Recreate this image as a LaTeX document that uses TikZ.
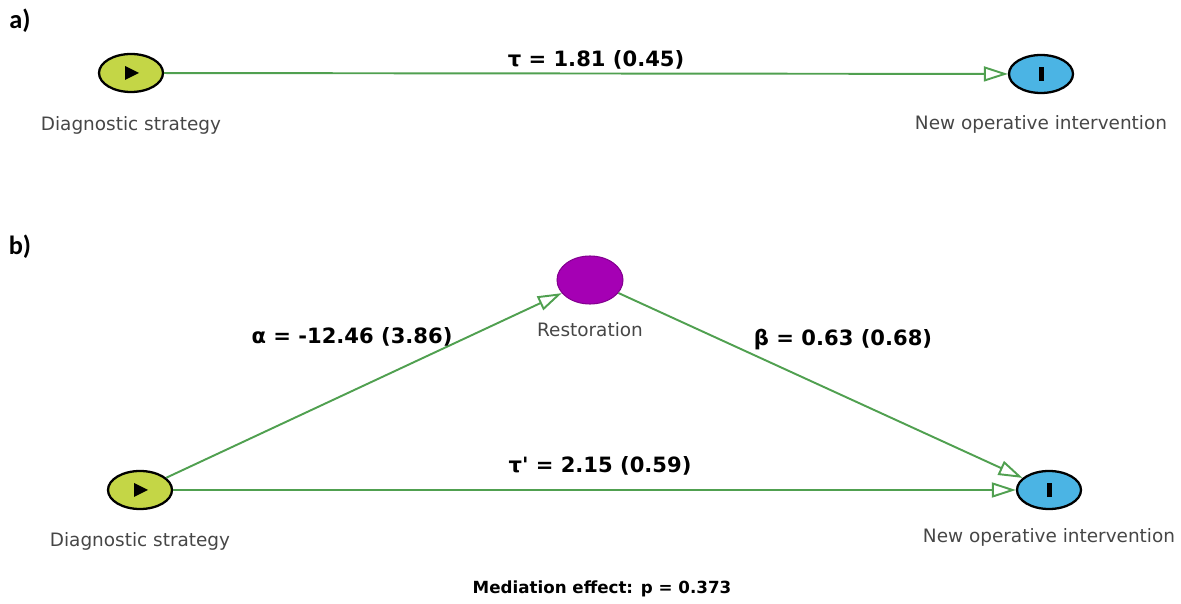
\documentclass[tikz,border=0pt]{standalone}
\usepackage{fontspec}
\setmainfont{DejaVu Sans}
\newfontfamily\panelfont{Carlito}
\usetikzlibrary{arrows.meta,shapes.geometric,calc}
\definecolor{edgegreen}{RGB}{80,160,80}
\definecolor{yg}{RGB}{196,214,70}
\definecolor{nblue}{RGB}{75,180,228}
\definecolor{npurple}{RGB}{165,0,180}
\definecolor{lblgray}{RGB}{70,70,70}
\tikzset{
  varnode/.style={ellipse,draw=black,line width=1.3pt,minimum width=12.8mm,minimum height=7.6mm,inner sep=0pt},
  srcnode/.style={varnode,fill=yg},
  tgtnode/.style={varnode,fill=nblue},
  mednode/.style={ellipse,draw=npurple!80!black,line width=0.6pt,fill=npurple,minimum width=13.2mm,minimum height=9.6mm,inner sep=0pt},
  namelabel/.style={text=lblgray,font=\fontsize{10.5}{12}\selectfont},
  coef/.style={font=\bfseries\fontsize{12}{14}\selectfont},
  edgepath/.style={draw=edgegreen,line width=1.1pt,-{Triangle[open,length=4.8mm,width=3mm,line width=1.1pt]}},
  panel/.style={font=\panelfont\bfseries\fontsize{15}{17}\selectfont}
}
\begin{document}
\begin{tikzpicture}[x=0.02cm,y=-0.02cm]
\useasboundingbox (0,0) rectangle (1181,604);
% panel a
\node[panel] (pa) at (20,21) {a)};
\node[srcnode] (ds1) at (131,73) {};
\fill[black] ($(ds1)+(-6,-7)$) -- ($(ds1)+(8,0)$) -- ($(ds1)+(-6,7)$) -- cycle;
\node[tgtnode] (no1) at (1041,74) {};
\fill[black] ($(no1)+(-2.5,-7)$) rectangle ($(no1)+(2.5,7)$);
\node[namelabel] (ds1l) at (131,125) {Diagnostic strategy};
\node[namelabel] (no1l) at (1041,124) {New operative intervention};
\draw[edgepath] (ds1) -- (no1);
\node[coef] (tau) at (596,60) {τ = 1.81 (0.45)};
% panel b
\node[panel] (pb) at (20,247) {b)};
\node[mednode] (rs) at (590,280) {};
\node[namelabel] (rsl) at (590,330) {Restoration};
\node[srcnode] (ds2) at (140,490) {};
\fill[black] ($(ds2)+(-6,-7)$) -- ($(ds2)+(8,0)$) -- ($(ds2)+(-6,7)$) -- cycle;
\node[tgtnode] (no2) at (1049,490) {};
\fill[black] ($(no2)+(-2.5,-7)$) rectangle ($(no2)+(2.5,7)$);
\node[namelabel] (ds2l) at (140,541) {Diagnostic strategy};
\node[namelabel] (no2l) at (1049,537) {New operative intervention};
\draw[edgepath] (ds2) -- (rs);
\draw[edgepath] (rs) -- (no2);
\draw[edgepath] (ds2) -- (no2);
\node[coef] (al) at (352,337) {α = -12.46 (3.86)};
\node[coef] (be) at (843,340) {β = 0.63 (0.68)};
\node[coef] (taup) at (600,466) {τ\textquotesingle{} = 2.15 (0.59)};
\node[coef,font=\bfseries\fontsize{9.5}{11}\selectfont] (med) at (602,589) {Mediation effect: p = 0.373};
\end{tikzpicture}
\end{document}
